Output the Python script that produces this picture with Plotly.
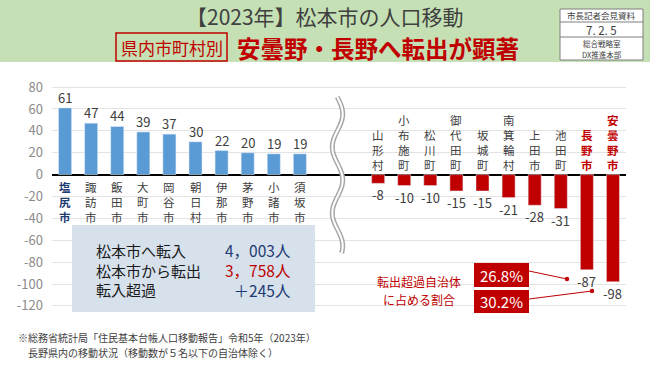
import math
import plotly.graph_objects as go

# ---------------- data ----------------
in_names = ["塩尻市", "諏訪市", "飯田市", "大町市", "岡谷市", "朝日村", "伊那市", "茅野市", "小諸市", "須坂市"]
in_values = [61, 47, 44, 39, 37, 30, 22, 20, 19, 19]
out_names = ["山形村", "小布施町", "松川町", "御代田町", "坂城町", "南箕輪村", "上田市", "池田町", "長野市", "安曇野市"]
out_values = [-8, -10, -10, -15, -15, -21, -28, -31, -87, -98]
gap_slots = 2
y_ticks = [-120, -100, -80, -60, -40, -20, 0, 20, 40, 60, 80]
y_tick_labels = ["-120", "-100", "-80", "-60", "-40", "-20", "0", "20", "40", "60", "80"]

summary_labels = ["松本市へ転入", "松本市から転出", "転入超過"]
summary_values = ["4，003人", "3，758人", "＋245人"]
share_texts = ["26.8%", "30.2%"]
share_caption = ["転出超過自治体", "に占める割合"]

title_line1 = "【2023年】松本市の人口移動"
title_tag = "県内市町村別"
title_line2 = "安曇野・長野へ転出が顕著"
stamp_lines = ["市長記者会見資料", "7. 2. 5", "総合戦略室", "DX推進本部"]
note_lines = ["※総務省統計局「住民基本台帳人口移動報告」令和5年（2023年）",
              "　長野県内の移動状況（移動数が５名以下の自治体除く）"]

# ---------------- style ----------------
FONT = "Noto Sans CJK JP, Noto Sans, sans-serif"
BLUE = "#5B9BD5"
RED = "#C00000"
NAVY = "#1F3B73"
DARK = "#404040"
W, H = 650, 365
L, R, T, B = 52, 626, 86, 307

x_in = list(range(len(in_values)))
x_out = [len(in_values) + gap_slots + i for i in range(len(out_values))]
n_slots = len(in_values) + gap_slots + len(out_values)


def px(x):
    return (x - L) / (R - L)


def py(y):
    return (B - y) / (B - T)


fig = go.Figure()
fig.add_trace(go.Bar(x=x_in, y=in_values, marker_color=BLUE, width=0.5, hoverinfo="skip"))
fig.add_trace(go.Bar(x=x_out, y=out_values, marker_color=RED, width=0.5, hoverinfo="skip"))

ann = []
shapes = []


def text(x, y, t, size, color=DARK, xa="center", ya="middle", bold=False, xref="paper", yref="paper",
         yshift=0, align="center"):
    if bold:
        t = "<b>" + t + "</b>"
    ann.append(dict(x=x, y=y, xref=xref, yref=yref, text=t, showarrow=False,
                    font=dict(family=FONT, size=size, color=color), align=align,
                    xanchor=xa, yanchor=ya, yshift=yshift, borderpad=0))


# value labels
for x, v in zip(x_in, in_values):
    text(x, v, str(v), 13, DARK, ya="bottom", xref="x", yref="y", yshift=0)
for x, v in zip(x_out, out_values):
    text(x, v, str(v), 13, DARK, ya="top", xref="x", yref="y", yshift=-1)

# vertical category labels (one character per line)
for x, name in zip(x_in, in_names):
    col, bold = (NAVY, True) if name == "塩尻市" else (DARK, False)
    text(x, 0, "<br>".join(name), 11.5, col, ya="top", xref="x", yref="y", bold=bold, yshift=-3)
for x, name in zip(x_out, out_names):
    col, bold = (RED, True) if name in ("長野市", "安曇野市") else (DARK, False)
    text(x, 0, "<br>".join(name), 11.5, col, ya="bottom", xref="x", yref="y", bold=bold, yshift=1)

# header band
shapes.append(dict(type="rect", xref="paper", yref="paper", x0=px(0), x1=px(W), y0=py(62), y1=py(0),
                   fillcolor="#C5E0B4", line=dict(width=0), layer="below"))
text(px(325), py(16), title_line1, 21, DARK)
shapes.append(dict(type="rect", xref="paper", yref="paper", x0=px(116), x1=px(227), y0=py(61), y1=py(33),
                   fillcolor="rgba(0,0,0,0)", line=dict(color=RED, width=1.5), layer="above"))
text(px(171.5), py(47.5), title_tag, 17, RED)
text(px(236), py(48), title_line2, 23.5, RED, xa="left", bold=True)

# stamp box
shapes.append(dict(type="rect", xref="paper", yref="paper", x0=px(560), x1=px(643), y0=py(60), y1=py(9),
                   fillcolor="white", line=dict(color="#7F7F7F", width=1), layer="above"))
for yy in (22, 37):
    shapes.append(dict(type="line", xref="paper", yref="paper", x0=px(560), x1=px(643), y0=py(yy), y1=py(yy),
                       line=dict(color="#7F7F7F", width=1), layer="above"))
for t, yy, fs in zip(stamp_lines, [15, 29.7, 43.6, 54.6], [8.5, 11.5, 7.5, 7.5]):
    text(px(601.5), py(yy), t, fs, DARK)

# break symbol (double wavy line)
pts = []
for i in range(0, 157):
    yy = 97 + i
    xx = 337.5 + 5.2 * math.cos(2 * math.pi * (yy - 114) / 66.0)
    pts.append((px(xx), py(yy)))
path = "M " + " L ".join(f"{a:.5f},{b:.5f}" for a, b in pts)
shapes.append(dict(type="path", xref="paper", yref="paper", path=path,
                   line=dict(color="#A6A6A6", width=5), layer="above"))
shapes.append(dict(type="path", xref="paper", yref="paper", path=path,
                   line=dict(color="white", width=2), layer="above"))

# summary box
shapes.append(dict(type="rect", xref="paper", yref="paper", x0=px(72), x1=px(315), y0=py(312), y1=py(225),
                   fillcolor="#D6E1EC", line=dict(width=0), layer="above"))
val_cols = [NAVY, RED, NAVY]
text(px(95), py(269.5), "<br>".join(summary_labels), 15, "#1A1A1A", xa="left", align="left")
text(px(292), py(269.5),
     "<br>".join(f"<span style='color:{c}'>{v}</span>" for v, c in zip(summary_values, val_cols)),
     15.5, NAVY, xa="right", align="right")

# share annotation
text(px(419), py(281), share_caption[0], 12, RED)
text(px(419), py(299), share_caption[1], 12, RED)
for (y0, y1), t in zip([(263, 287), (290, 313)], share_texts):
    shapes.append(dict(type="rect", xref="paper", yref="paper", x0=px(474), x1=px(529), y0=py(y1), y1=py(y0),
                       fillcolor=RED, line=dict(width=0), layer="above"))
    text(px(501.5), py((y0 + y1) / 2), t, 15, "white")
for (x0, y0, x1, y1) in [(529, 271, 567, 279), (529, 299, 592, 291)]:
    shapes.append(dict(type="line", xref="paper", yref="paper", x0=px(x0), x1=px(x1), y0=py(y0), y1=py(y1),
                       line=dict(color=RED, width=1), layer="above"))
    r = 2.2
    shapes.append(dict(type="circle", xref="paper", yref="paper", x0=px(x1 - r), x1=px(x1 + r),
                       y0=py(y1 + r), y1=py(y1 - r), fillcolor=RED, line=dict(width=0), layer="above"))

# footnote
text(px(17), py(337), note_lines[0], 10, DARK, xa="left")
text(px(17), py(352), note_lines[1], 10, DARK, xa="left")

fig.update_layout(
    width=W, height=H, autosize=False,
    margin=dict(l=L, r=W - R, t=T, b=H - B, pad=0),
    paper_bgcolor="white", plot_bgcolor="white",
    showlegend=False, barmode="overlay",
    annotations=ann, shapes=shapes,
    xaxis=dict(range=[-0.5, n_slots - 0.5], showgrid=False, showticklabels=False, zeroline=False,
               fixedrange=True),
    yaxis=dict(range=[-121, 81], tickvals=y_ticks, ticktext=y_tick_labels, showgrid=True,
               gridcolor="#E3E3E3", gridwidth=1, zeroline=True, zerolinecolor="black", zerolinewidth=2,
               tickfont=dict(family=FONT, size=13, color="#8C8C8C"), ticks="", ticklabelstandoff=8,
               fixedrange=True),
)
fig.write_html("out.html", config={"displayModeBar": False},
               post_script="document.body.style.margin='0';document.body.style.padding='0';")
